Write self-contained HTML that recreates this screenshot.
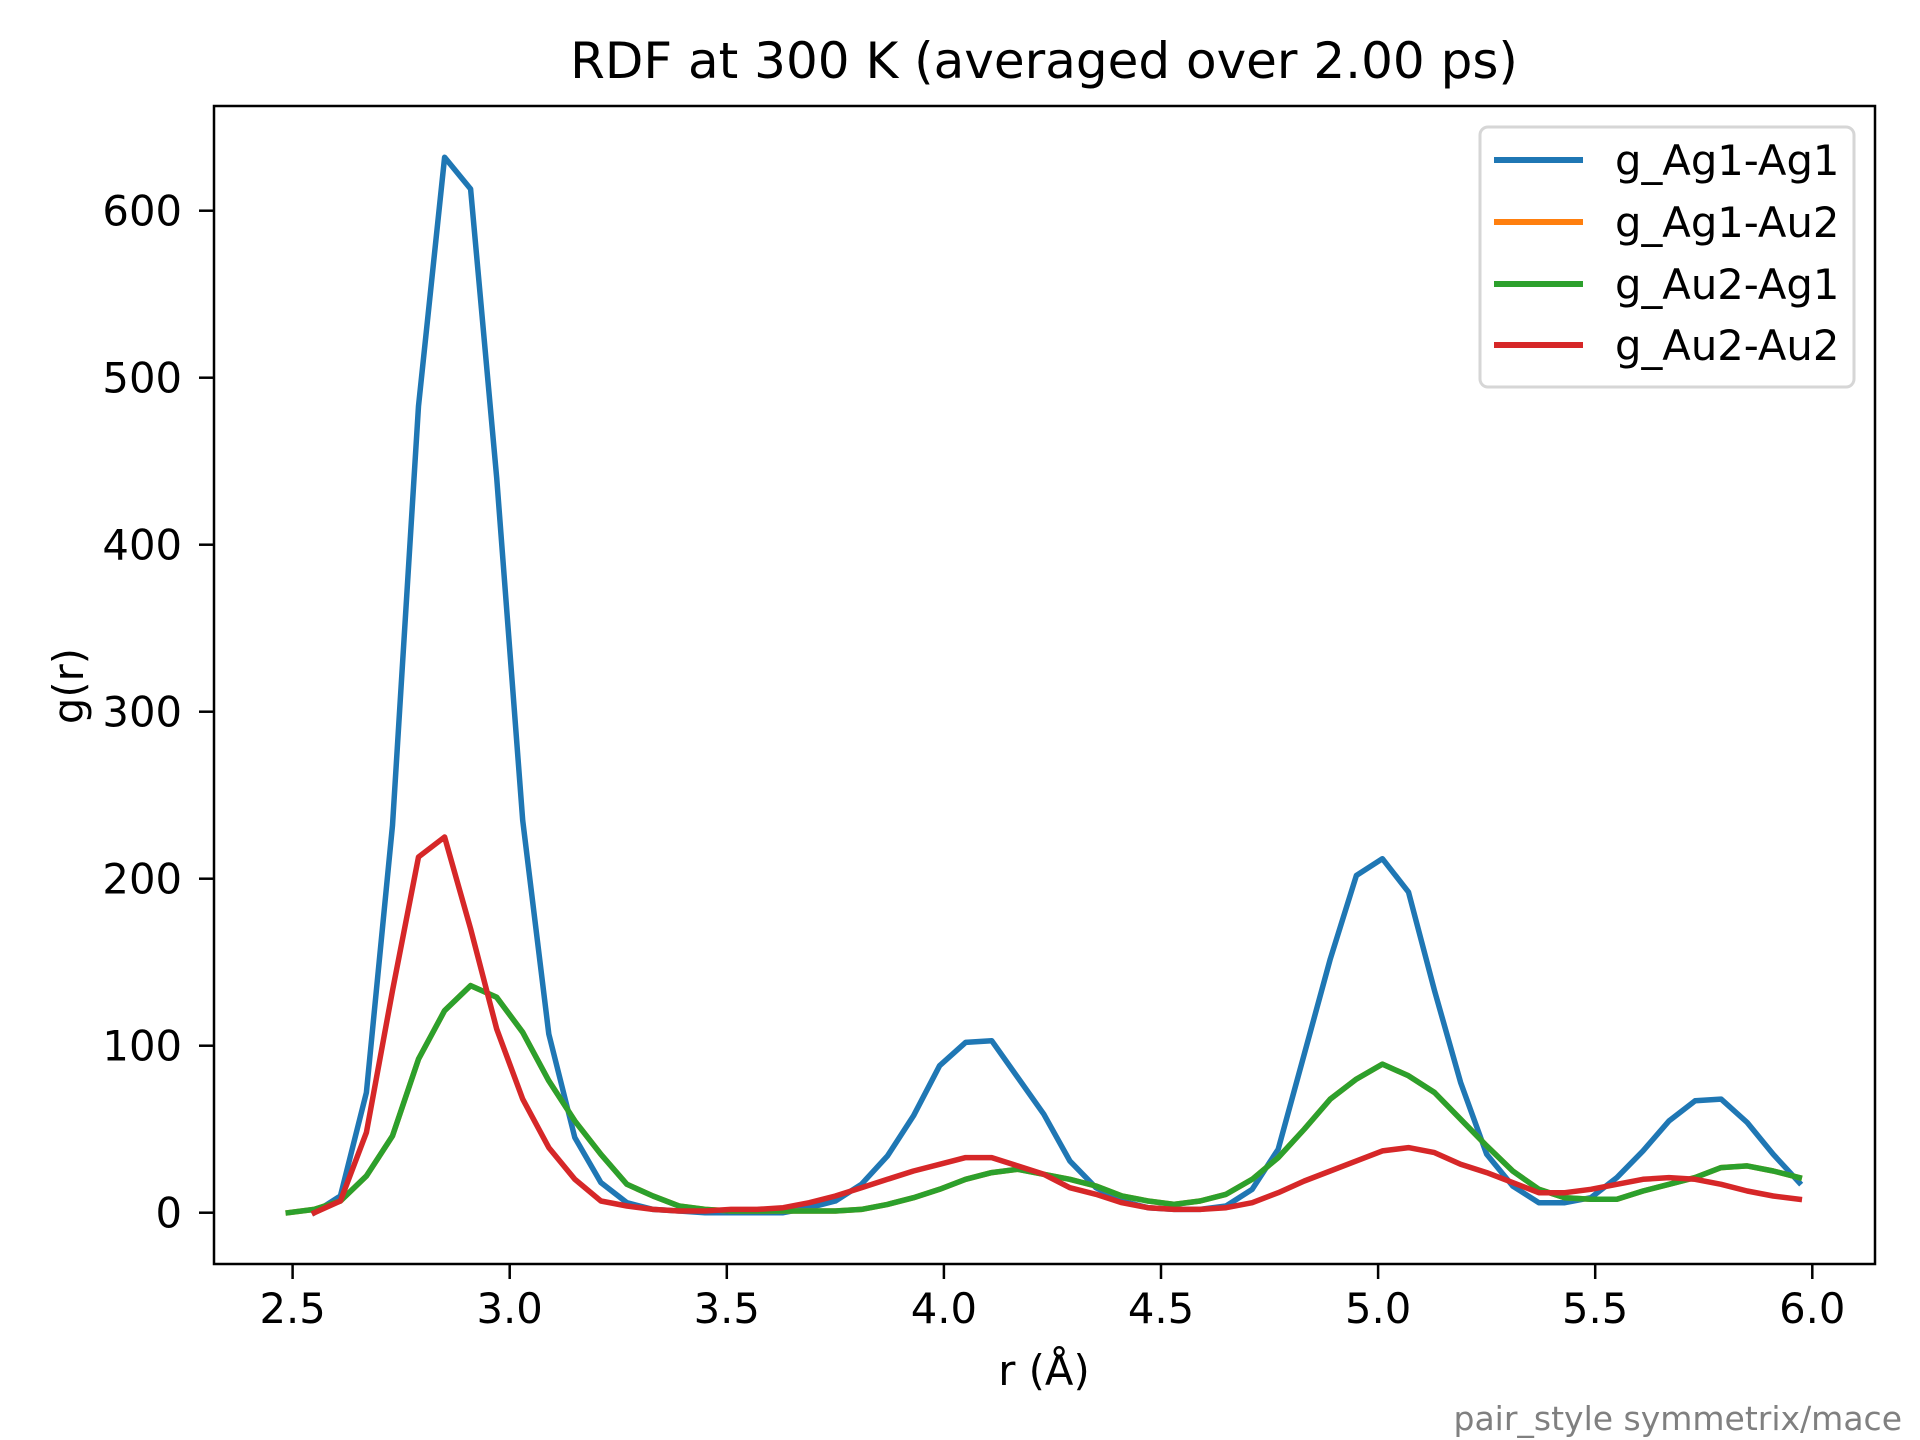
<!DOCTYPE html>
<html><head><meta charset="utf-8"><style>
html,body{margin:0;padding:0;background:#fff;}
svg{display:block;font-family:"DejaVu Sans","Liberation Sans",sans-serif;}
</style></head><body>
<svg id="chart" width="1920" height="1440" viewBox="0 0 1920 1440" xmlns="http://www.w3.org/2000/svg">
<rect width="1920" height="1440" fill="#fff"/>
<text x="1044" y="78" font-size="50" text-anchor="middle">RDF at 300 K (averaged over 2.00 ps)</text>
<g id="ticks"></g>
<g id="series"></g>
<rect x="214" y="106" width="1661" height="1158" fill="none" stroke="#000" stroke-width="2.5"/>
<text x="1044" y="1385" font-size="41.7" text-anchor="middle">r (Å)</text>
<text transform="translate(83,686) rotate(-90)" font-size="41.7" text-anchor="middle">g(r)</text>
<text x="1902" y="1430" font-size="33" fill="#808080" text-anchor="end">pair_style symmetrix/mace</text>
<g>
<rect x="1480" y="127" width="374" height="260" rx="8" fill="#fff" fill-opacity="0.8" stroke="#d6d6d6" stroke-width="3"/>
<line x1="1494" y1="160" x2="1583" y2="160" stroke="#1f77b4" stroke-width="6"/>
<text x="1615" y="175" font-size="41.7">g_Ag1-Ag1</text>
<line x1="1494" y1="222" x2="1583" y2="222" stroke="#ff7f0e" stroke-width="6"/>
<text x="1615" y="237" font-size="41.7">g_Ag1-Au2</text>
<line x1="1494" y1="284" x2="1583" y2="284" stroke="#2ca02c" stroke-width="6"/>
<text x="1615" y="299" font-size="41.7">g_Au2-Ag1</text>
<line x1="1494" y1="345" x2="1583" y2="345" stroke="#d62728" stroke-width="6"/>
<text x="1615" y="360" font-size="41.7">g_Au2-Au2</text>
</g>
</svg>
<script>
const rStart = 2.49;
const rStep = 0.06;
const xTicks = [2.5, 3.0, 3.5, 4.0, 4.5, 5.0, 5.5, 6.0];
const xTickLabels = ["2.5","3.0","3.5","4.0","4.5","5.0","5.5","6.0"];
const yTicks = [0, 100, 200, 300, 400, 500, 600];
const yTickLabels = ["0","100","200","300","400","500","600"];
const gAg1Ag1 = [null,0,10,72,232,483,632,613,440,235,107,45,18,6,2,1,0,0,0,0,3,7,17,34,58,88,102,103,81,59,31,15,7,3,2,2,4,14,38,95,152,202,212,192,133,78,35,16,6,6,9,21,37,55,67,68,54,35,18];
const gAu2Ag1 = [0,2,7,22,46,92,121,136,129,108,79,55,35,17,10,4,2,1,1,1,1,1,2,5,9,14,20,24,26,23,20,16,10,7,5,7,11,20,33,50,68,80,89,82,72,56,40,25,14,9,8,8,13,17,21,27,28,25,21];
const gAg1Au2 = [0,2,7,22,46,92,121,136,129,108,79,55,35,17,10,4,2,1,1,1,1,1,2,5,9,14,20,24,26,23,20,16,10,7,5,7,11,20,33,50,68,80,89,82,72,56,40,25,14,9,8,8,13,17,21,27,28,25,21];
const gAu2Au2 = [null,0,7,48,133,213,225,170,110,68,39,20,7,4,2,1,1,2,2,3,6,10,15,20,25,29,33,33,28,23,15,11,6,3,2,2,3,6,12,19,25,31,37,39,36,29,24,18,12,12,14,17,20,21,20,17,13,10,8];

function xs(r){ return 292.6 + (r - 2.5) * 434.2; }
function ys(v){ return 1212.7 - v * 1.67; }
const NS = "http://www.w3.org/2000/svg";
const tg = document.getElementById("ticks");
xTicks.forEach((t, i) => {
  const l = document.createElementNS(NS, "line");
  
  
  l.setAttribute("x1", xs(t)); l.setAttribute("x2", xs(t));
  l.setAttribute("y1", 1264); l.setAttribute("y2", 1279);
  l.setAttribute("stroke", "#000"); l.setAttribute("stroke-width", "2.5");
  tg.appendChild(l);
  const tx = document.createElementNS(NS, "text");
  
  
  tx.setAttribute("x", xs(t)); tx.setAttribute("y", 1323);
  tx.setAttribute("font-size", "41.7"); tx.setAttribute("text-anchor", "middle");
  tx.textContent = xTickLabels[i];
  tg.appendChild(tx);
});
yTicks.forEach((t, i) => {
  const l = document.createElementNS(NS, "line");
  
  
  l.setAttribute("x1", 199); l.setAttribute("x2", 214);
  l.setAttribute("y1", ys(t)); l.setAttribute("y2", ys(t));
  l.setAttribute("stroke", "#000"); l.setAttribute("stroke-width", "2.5");
  tg.appendChild(l);
  const tx = document.createElementNS(NS, "text");
  
  
  tx.setAttribute("x", 182); tx.setAttribute("y", ys(t) + 15);
  tx.setAttribute("font-size", "41.7"); tx.setAttribute("text-anchor", "end");
  tx.textContent = yTickLabels[i];
  tg.appendChild(tx);
});
const sg = document.getElementById("series");
function drawSeries(vals, color, name){
  const pts = [];
  vals.forEach((v, i) => { if (v !== null) pts.push(xs(rStart + i * rStep).toFixed(1) + "," + ys(v).toFixed(1)); });
  const p = document.createElementNS(NS, "polyline");
  
  
  p.setAttribute("points", pts.join(" "));
  p.setAttribute("fill", "none"); p.setAttribute("stroke", color);
  p.setAttribute("stroke-width", "5.5"); p.setAttribute("stroke-linejoin", "round");
  p.setAttribute("stroke-linecap", "square");
  sg.appendChild(p);
}
drawSeries(gAg1Ag1, "#1f77b4", "line-ag1-ag1");
drawSeries(gAg1Au2, "#ff7f0e", "line-ag1-au2");
drawSeries(gAu2Ag1, "#2ca02c", "line-au2-ag1");
drawSeries(gAu2Au2, "#d62728", "line-au2-au2");
</script>
</body></html>
